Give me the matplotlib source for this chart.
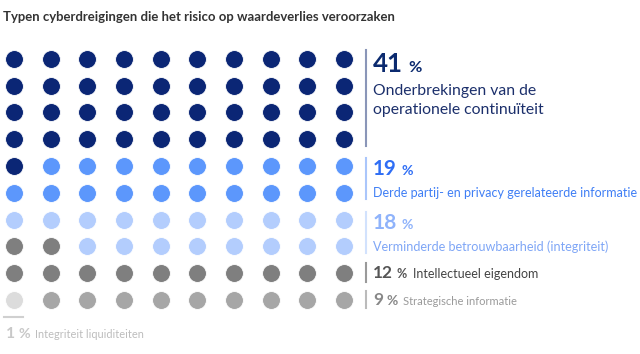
import matplotlib.pyplot as plt

# data
values = [41, 19, 18, 12, 9, 1]
labels = ["Onderbrekingen van de\noperationele continuïteit",
          "Derde partij- en privacy gerelateerde informatie",
          "Verminderde betrouwbaarheid (integriteit)",
          "Intellectueel eigendom",
          "Strategische informatie",
          "Integriteit liquiditeiten"]
dot_colors = ["#0b2675", "#5c97fc", "#b3cdfd", "#7f7f7f", "#a6a6a6", "#dcdcdc"]
num_colors = ["#0b2a6f", "#2f6ef5", "#8fb3fb", "#555555", "#888888", "#c8c8c8"]
txt_colors = ["#1b2f6b", "#3f7ef5", "#7fa6f6", "#444444", "#9a9a9a", "#bdbdbd"]
bar_colors = ["#8a96b8", "#aac6fb", "#d2e2fd", "#9a9a9a", "#bbbbbb", "#d0d0d0"]
title = "Typen cyberdreigingen die het risico op waardeverlies veroorzaken"

plt.rcParams['font.family'] = ['Lato', 'DejaVu Sans']

# grid 10x10: last 3 groups fill from bottom-left, first 3 from top-left
n_rows, n_cols = 10, 10
cell = {}
bottom = [(r, c) for r in range(n_rows - 1, -1, -1) for c in range(n_cols)]
k = 0
for g in range(len(values) - 1, 2, -1):
    for _ in range(values[g]):
        cell[bottom[k]] = g
        k += 1
top = [(r, c) for r in range(n_rows) for c in range(n_cols) if (r, c) not in cell]
k = 0
for g in range(3):
    for _ in range(values[g]):
        cell[top[k]] = g
        k += 1

W, H = 640, 354
fig = plt.figure(figsize=(W / 100, H / 100), dpi=100)

# waffle axes: col 0 at px 14, spacing 36.67; row 0 at px 58.8, spacing 26.8
dx, dy = 36.67, 26.8
x0, y0 = 14, 58.8
ax = fig.add_axes([0, 0, 1, 1])
ax.set_xlim(-x0 / dx, (W - x0) / dx)
ax.set_ylim((H - y0) / dy, -y0 / dy)
ax.axis('off')
for g in range(len(values)):
    pts = [rc for rc, v in cell.items() if v == g]
    ax.scatter([p[1] for p in pts], [p[0] for p in pts], s=165,
               color=dot_colors[g], edgecolor='white', linewidth=0.6, zorder=3)

# annotation overlay in pixel coords
tx = fig.add_axes([0, 0, 1, 1])
tx.set_xlim(0, W)
tx.set_ylim(H, 0)
tx.axis('off')
tx.patch.set_alpha(0)

renderer = fig.canvas.get_renderer()

def fit_text(x, y, s, width, **kw):
    # shrink/grow the font so the text spans about `width` pixels
    t = tx.text(x, y, s, fontsize=10, **kw)
    w = t.get_window_extent(renderer).width
    t.set_fontsize(10 * width / w)
    return t

def num_pct(x, y, num, nw, pend, color):
    t = fit_text(x, y, num, nw, fontweight='bold', color=color)
    fs = t.get_fontsize()
    p = tx.text(x + nw + fs * 0.3, y, "%", fontweight='bold', color=color,
                fontsize=10)
    pw = p.get_window_extent(renderer).width
    p.set_fontsize(10 * (pend - x - nw - fs * 0.3) / pw)

fit_text(3, 21, title, 392, fontweight='bold', color='#333333')

# vertical bars
bars = [(50, 146), (158, 199), (212, 253), (263, 282), (291, 308)]
for (a, b), c in zip(bars, bar_colors):
    tx.plot([366, 366], [a, b], color=c, lw=1.5)
tx.plot([4, 23], [317, 317], color=bar_colors[5], lw=1.5)

num_pct(373, 72, "41", 30, 422, num_colors[0])
t = fit_text(373, 95, labels[0].split("\n")[0], 164, color=txt_colors[0])
tx.text(373, 114, labels[0].split("\n")[1], fontsize=t.get_fontsize(),
        color=txt_colors[0])

num_pct(373, 175, "19", 24, 413, num_colors[1])
fit_text(373, 197, labels[1], 263, color=txt_colors[1])

num_pct(373, 229, "18", 24, 413, num_colors[2])
fit_text(373, 251, labels[2], 235, color=txt_colors[2])

num_pct(373, 278, "12", 20, 407, num_colors[3])
fit_text(413, 278, labels[3], 125, color=txt_colors[3])

num_pct(373, 305, "9", 10, 398, num_colors[4])
fit_text(403, 305, labels[4], 113, color=txt_colors[4])

num_pct(6, 338, "1", 9, 30, num_colors[5])
fit_text(35, 338, labels[5], 108, color=txt_colors[5])

fig.savefig("out.png", dpi=100)
